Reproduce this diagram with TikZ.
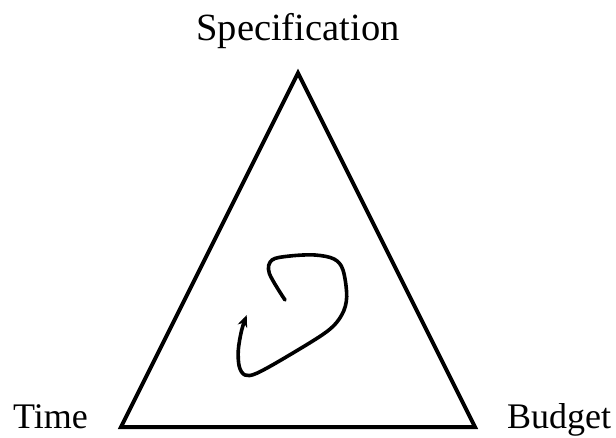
\documentclass[tikz,border=0pt]{standalone}
\usepackage{fontspec}
\setmainfont{Liberation Serif}
\usetikzlibrary{arrows.meta}
\begin{document}
\begin{tikzpicture}[x=1pt,y=-1pt,
  lbl/.style={inner sep=0pt,font=\fontsize{36}{40}\selectfont},
  biglbl/.style={inner sep=0pt,font=\fontsize{38.5}{42}\selectfont},
  edge/.style={line width=4pt},
  loopline/.style={line width=3.6pt,line cap=round,line join=round}]
\useasboundingbox (0,0) rectangle (616,438);
\coordinate (top) at (298,73);
\coordinate (bl) at (121,427);
\coordinate (br) at (475,427);
\draw[edge] (top) -- (bl) -- (br) -- cycle;
\node[biglbl,anchor=base] (spec) at (298,41) {Specification};
\node[lbl,anchor=base west] (time) at (13,428) {Time};
\node[lbl,anchor=base west] (budget) at (507,428) {Budget};
\draw[loopline,-{Stealth[length=12pt,width=10pt]}] plot[smooth,tension=0.55] coordinates {
 (285,300) (269.3,273.3) (272,260) (290,256) (315,255) (334,259) (343,270)
 (346.7,296.7) (341.7,315) (326.7,331.7) (286.7,356.7) (256.7,373.3) (245,375)
 (239.3,366.7) (238.3,350) (241.7,330) (246.7,315)};
\end{tikzpicture}
\end{document}
